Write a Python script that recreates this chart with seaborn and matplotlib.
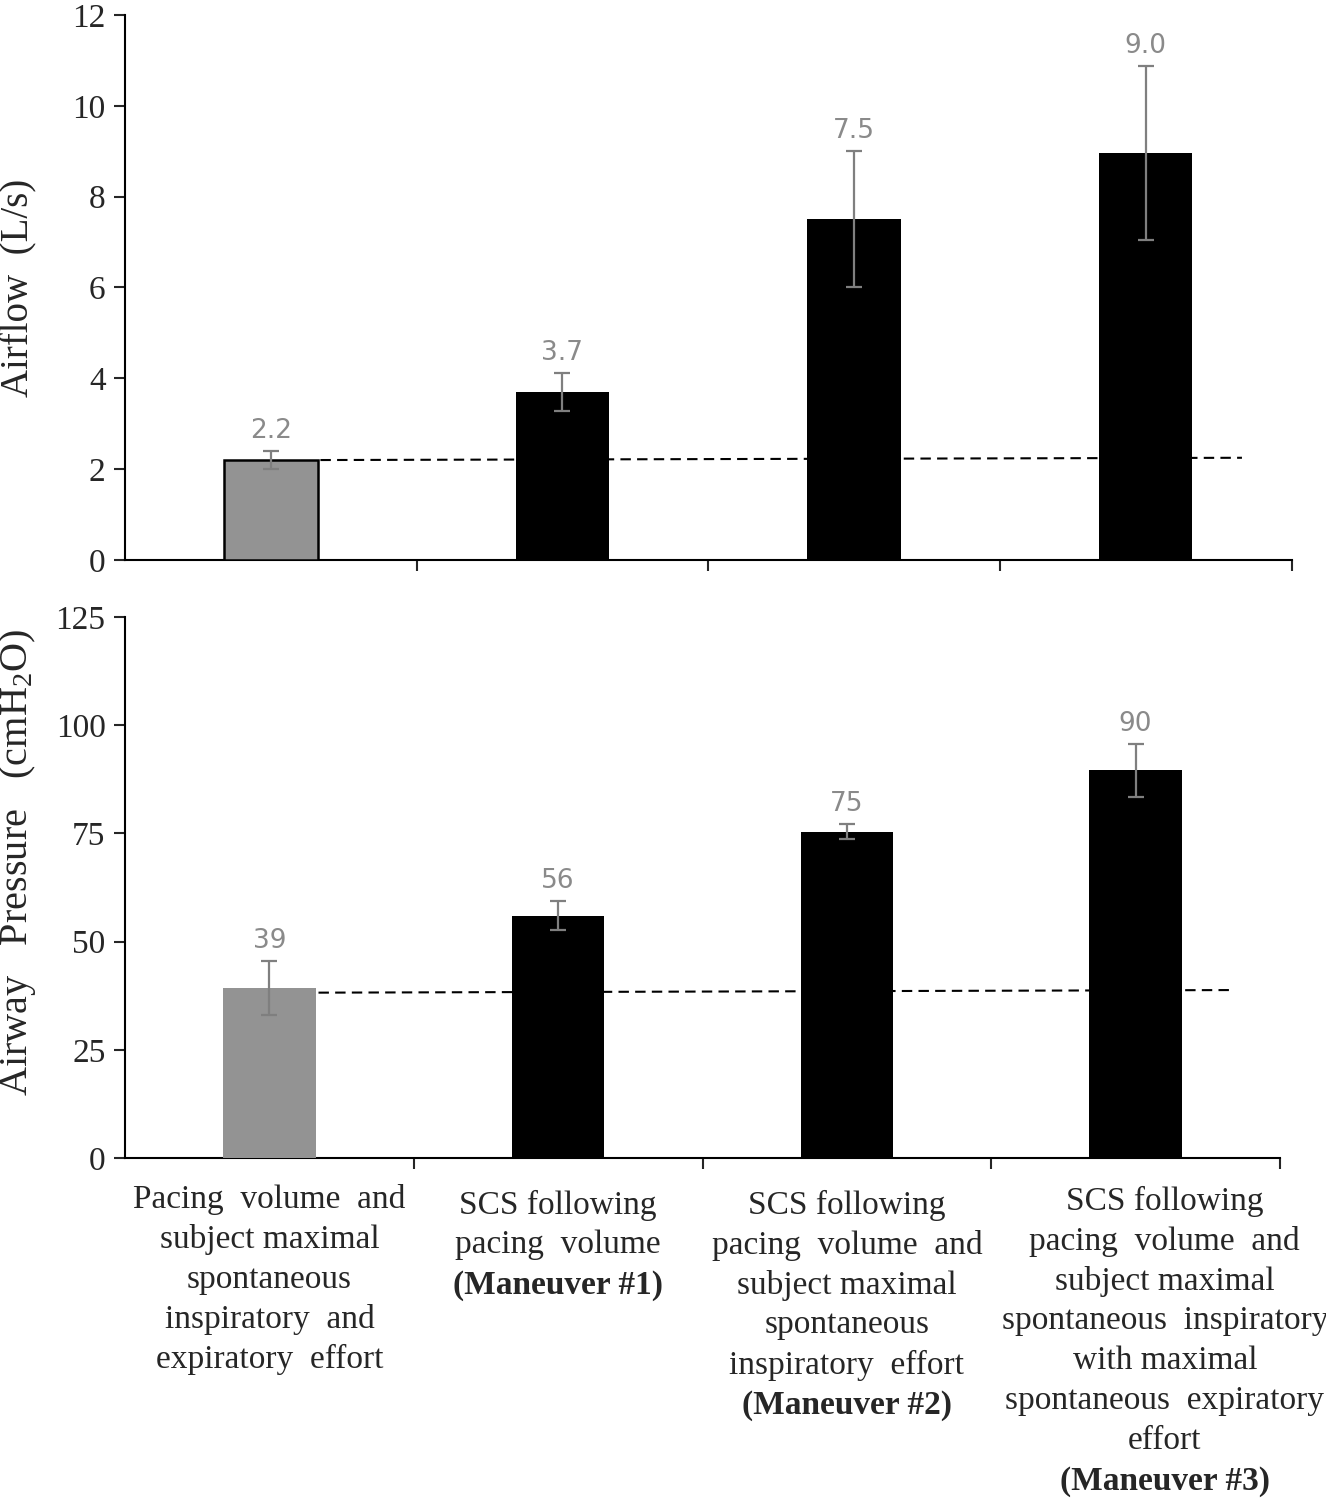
import numpy as np
import pandas as pd
import seaborn as sns
import matplotlib
matplotlib.use("Agg")
import matplotlib.pyplot as plt

# Dữ liệu
conditions = ["Pacing", "Maneuver #1", "Maneuver #2", "Maneuver #3"]
airflow = [2.2, 3.7, 7.5, 8.96]
airflow_err = [0.2, 0.41, 1.5, 1.92]
pressure = [39.3, 56.0, 75.4, 89.6]
pressure_err = [6.2, 3.3, 1.7, 6.1]
airflow_ref = [2.2, 2.25]      # đường nét đứt (đầu, cuối)
pressure_ref = [38.2, 38.8]

airflow_ticks = [0, 2, 4, 6, 8, 10, 12]
pressure_ticks = [0, 25, 50, 75, 100, 125]

label_lines = [
    ["Pacing  volume  and", "subject maximal", "spontaneous", "inspiratory  and", "expiratory  effort"],
    ["SCS following", "pacing  volume", "(Maneuver #1)"],
    ["SCS following", "pacing  volume  and", "subject maximal", "spontaneous",
     "inspiratory  effort", "(Maneuver #2)"],
    ["SCS following", "pacing  volume  and", "subject maximal", "spontaneous  inspiratory",
     "with maximal", "spontaneous  expiratory", "effort", "(Maneuver #3)"],
]

sns.set_style("ticks")
plt.rcParams['font.family'] = ['Liberation Serif', 'DejaVu Serif']
plt.rcParams['mathtext.fontset'] = 'custom'
plt.rcParams['mathtext.rm'] = 'Liberation Serif'
plt.rcParams['mathtext.it'] = 'Liberation Serif:italic'

colors = ["#939393", "black", "black", "black"]

fig = plt.figure(figsize=(13.26, 15), dpi=100)
ax1 = fig.add_axes([0.0943, 0.6267, 0.8797, 0.3633])
ax2 = fig.add_axes([0.0943, 0.228, 0.8710, 0.3607])


def draw_panel(ax, vals, errs, ref, fmt, ylim, yticks, ylabel, ysize, outline_first):
    df = pd.DataFrame({"cond": conditions, "val": vals})
    sns.barplot(data=df, x="cond", y="val", hue="cond", order=conditions,
                hue_order=conditions, palette=colors, width=0.32, legend=False,
                ax=ax, zorder=3, edgecolor="none", saturation=1)
    if outline_first:
        ax.patches[0].set_edgecolor("black")
        ax.patches[0].set_linewidth(1.8)
    ax.errorbar(range(len(vals)), vals, yerr=errs, fmt="none", ecolor="#7f7f7f",
                elinewidth=1.6, capsize=6, capthick=1.6, zorder=4)
    for i, (v, e) in enumerate(zip(vals, errs)):
        ax.annotate(fmt.format(v), xy=(i, v + e), xytext=(0, 5),
                    textcoords="offset points", ha="center", va="bottom",
                    color="#8a8a8a", fontsize=19, family="DejaVu Sans")
    ax.plot([0.17, 3.33], ref, ls=(0, (5, 3)), color="black", lw=1.5, zorder=2)

    ax.set_xlim(-0.5, 3.5)
    ax.set_ylim(*ylim)
    ax.set_yticks(yticks)
    ax.set_xticks(range(len(conditions)))
    ax.set_xticklabels([])
    ax.set_xticks([0.5, 1.5, 2.5, 3.5], minor=True)
    ax.tick_params(axis="x", which="major", length=0)
    ax.tick_params(axis="x", which="minor", length=8, width=1.5, direction="out")
    ax.tick_params(axis="y", length=8, width=1.5, labelsize=24, pad=6)
    ax.set_xlabel("")
    ax.set_ylabel(ylabel, fontsize=ysize)
    ax.yaxis.set_label_coords(-0.075, 0.5)
    sns.despine(ax=ax)
    for s in ["left", "bottom"]:
        ax.spines[s].set_linewidth(1.5)
        ax.spines[s].set_color("black")


draw_panel(ax1, airflow, airflow_err, airflow_ref, "{:.1f}", (0, 12),
           airflow_ticks, "Airflow  (L/s)", 28, True)
draw_panel(ax2, pressure, pressure_err, pressure_ref, "{:.0f}", (0, 125),
           pressure_ticks, "Airway   Pressure   (cmH$_2$O)", 29, False)
ax2.yaxis.set_label_coords(-0.075, 0.547)

# Nhãn trục x nhiều dòng, dòng "(Maneuver #n)" in đậm
x_shift = [0, 0, 0, 21]
y_shift = [0, 4, 4, 1]
for i, lines in enumerate(label_lines):
    for k, line in enumerate(lines):
        ax2.annotate(line, xy=(i, 0), xycoords=("data", "axes fraction"),
                     xytext=(x_shift[i], -19 - y_shift[i] - 28.8 * k),
                     textcoords="offset points",
                     ha="center", va="top", fontsize=24,
                     fontweight="bold" if line.startswith("(Maneuver") else "normal")

fig.savefig("out.png", dpi=100)
